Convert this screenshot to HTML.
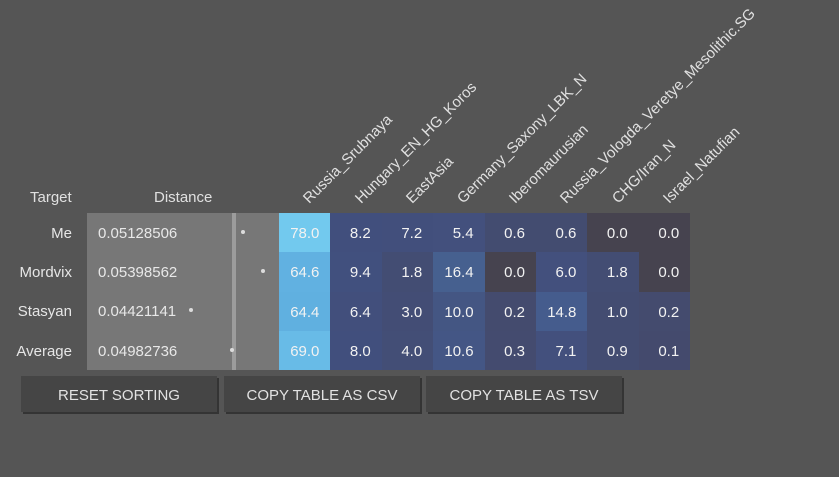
<!DOCTYPE html>
<html><head><meta charset="utf-8">
<style>
html,body{margin:0;padding:0;}
body{width:839px;height:477px;background:#555555;position:relative;overflow:hidden;font-family:"Liberation Sans",Arial,sans-serif;font-size:15px;color:#e6e6e6;}
.a{position:absolute;}
.lbl{position:absolute;right:767px;width:80px;text-align:right;height:39px;line-height:41px;color:#e6e6e6;}
.dist{position:absolute;left:87px;width:192px;background:#777777;}
.dv{position:absolute;left:98px;height:39px;line-height:41px;color:#e8e8e8;}
.dot{position:absolute;width:4px;height:4px;border-radius:50%;background:#dcdcdc;}
.c{position:absolute;height:39.25px;line-height:41px;text-align:right;box-sizing:border-box;padding-right:11px;color:#f2f2f2;}
.h{position:absolute;top:190px;height:17px;line-height:17px;white-space:nowrap;transform-origin:0 100%;transform:rotate(-45deg);color:#e0e0e0;}
.btn{position:absolute;top:376px;height:36px;background:#454545;box-shadow:2px 2px 0 #343434;color:#e2e2e2;text-align:center;line-height:39px;font-size:15px;}
</style></head><body>

<div class="a" style="left:30px;top:189px;color:#e0e0e0;">Target</div>
<div class="a" style="left:154px;top:189px;color:#e0e0e0;">Distance</div>

<div class="h" style="left:312px;">Russia_Srubnaya</div>
<div class="h" style="left:364px;">Hungary_EN_HG_Koros</div>
<div class="h" style="left:415px;">EastAsia</div>
<div class="h" style="left:466px;">Germany_Saxony_LBK_N</div>
<div class="h" style="left:518px;">Iberomaurusian</div>
<div class="h" style="left:569px;">Russia_Vologda_Veretye_Mesolithic.SG</div>
<div class="h" style="left:621px;">CHG/Iran_N</div>
<div class="h" style="left:672px;">Israel_Natufian</div>

<div class="lbl" style="top:213px;">Me</div>
<div class="lbl" style="top:252px;">Mordvix</div>
<div class="lbl" style="top:291px;">Stasyan</div>
<div class="lbl" style="top:331px;">Average</div>

<div class="dist" style="top:213px;height:157px;"></div>
<div class="a" style="left:232px;top:213px;width:4px;height:157px;background:#9c9c9c;"></div>

<div class="dv" style="top:213px;">0.05128506</div>
<div class="dv" style="top:252px;">0.05398562</div>
<div class="dv" style="top:291px;">0.04421141</div>
<div class="dv" style="top:331px;">0.04982736</div>

<div class="dot" style="left:241px;top:230px;"></div>
<div class="dot" style="left:261px;top:269px;"></div>
<div class="dot" style="left:189px;top:308px;"></div>
<div class="dot" style="left:230px;top:348px;"></div>

<!-- Row 1 -->
<div class="c" style="left:279px;top:213px;width:51.4px;background:#72c9ee;">78.0</div>
<div class="c" style="left:330.4px;top:213px;width:51.4px;background:#414f7d;">8.2</div>
<div class="c" style="left:381.8px;top:213px;width:51.4px;background:#424f7c;">7.2</div>
<div class="c" style="left:433.2px;top:213px;width:51.4px;background:#43507d;">5.4</div>
<div class="c" style="left:484.6px;top:213px;width:51.4px;background:#434c70;">0.6</div>
<div class="c" style="left:536px;top:213px;width:51.4px;background:#434c70;">0.6</div>
<div class="c" style="left:587.4px;top:213px;width:51.4px;background:#46434f;">0.0</div>
<div class="c" style="left:638.8px;top:213px;width:51.4px;background:#46434f;">0.0</div>
<!-- Row 2 -->
<div class="c" style="left:279px;top:252.25px;width:51.4px;background:#61b1e1;">64.6</div>
<div class="c" style="left:330.4px;top:252.25px;width:51.4px;background:#41507e;">9.4</div>
<div class="c" style="left:381.8px;top:252.25px;width:51.4px;background:#434d73;">1.8</div>
<div class="c" style="left:433.2px;top:252.25px;width:51.4px;background:#46608f;">16.4</div>
<div class="c" style="left:484.6px;top:252.25px;width:51.4px;background:#46434f;">0.0</div>
<div class="c" style="left:536px;top:252.25px;width:51.4px;background:#43507d;">6.0</div>
<div class="c" style="left:587.4px;top:252.25px;width:51.4px;background:#434d73;">1.8</div>
<div class="c" style="left:638.8px;top:252.25px;width:51.4px;background:#46434f;">0.0</div>
<!-- Row 3 -->
<div class="c" style="left:279px;top:291.5px;width:51.4px;background:#60b0e0;">64.4</div>
<div class="c" style="left:330.4px;top:291.5px;width:51.4px;background:#424f7c;">6.4</div>
<div class="c" style="left:381.8px;top:291.5px;width:51.4px;background:#434d75;">3.0</div>
<div class="c" style="left:433.2px;top:291.5px;width:51.4px;background:#445683;">10.0</div>
<div class="c" style="left:484.6px;top:291.5px;width:51.4px;background:#444b6e;">0.2</div>
<div class="c" style="left:536px;top:291.5px;width:51.4px;background:#455c8d;">14.8</div>
<div class="c" style="left:587.4px;top:291.5px;width:51.4px;background:#434c71;">1.0</div>
<div class="c" style="left:638.8px;top:291.5px;width:51.4px;background:#444b6e;">0.2</div>
<!-- Row 4 -->
<div class="c" style="left:279px;top:330.75px;width:51.4px;height:39.25px;background:#68bbe7;">69.0</div>
<div class="c" style="left:330.4px;top:330.75px;width:51.4px;background:#414f7d;">8.0</div>
<div class="c" style="left:381.8px;top:330.75px;width:51.4px;background:#434e76;">4.0</div>
<div class="c" style="left:433.2px;top:330.75px;width:51.4px;background:#445685;">10.6</div>
<div class="c" style="left:484.6px;top:330.75px;width:51.4px;background:#444b6f;">0.3</div>
<div class="c" style="left:536px;top:330.75px;width:51.4px;background:#43507d;">7.1</div>
<div class="c" style="left:587.4px;top:330.75px;width:51.4px;background:#434c71;">0.9</div>
<div class="c" style="left:638.8px;top:330.75px;width:51.4px;background:#444a6d;">0.1</div>

<div class="btn" style="left:21px;width:196px;">RESET SORTING</div>
<div class="btn" style="left:224px;width:196px;">COPY TABLE AS CSV</div>
<div class="btn" style="left:426px;width:196px;">COPY TABLE AS TSV</div>

</body></html>
